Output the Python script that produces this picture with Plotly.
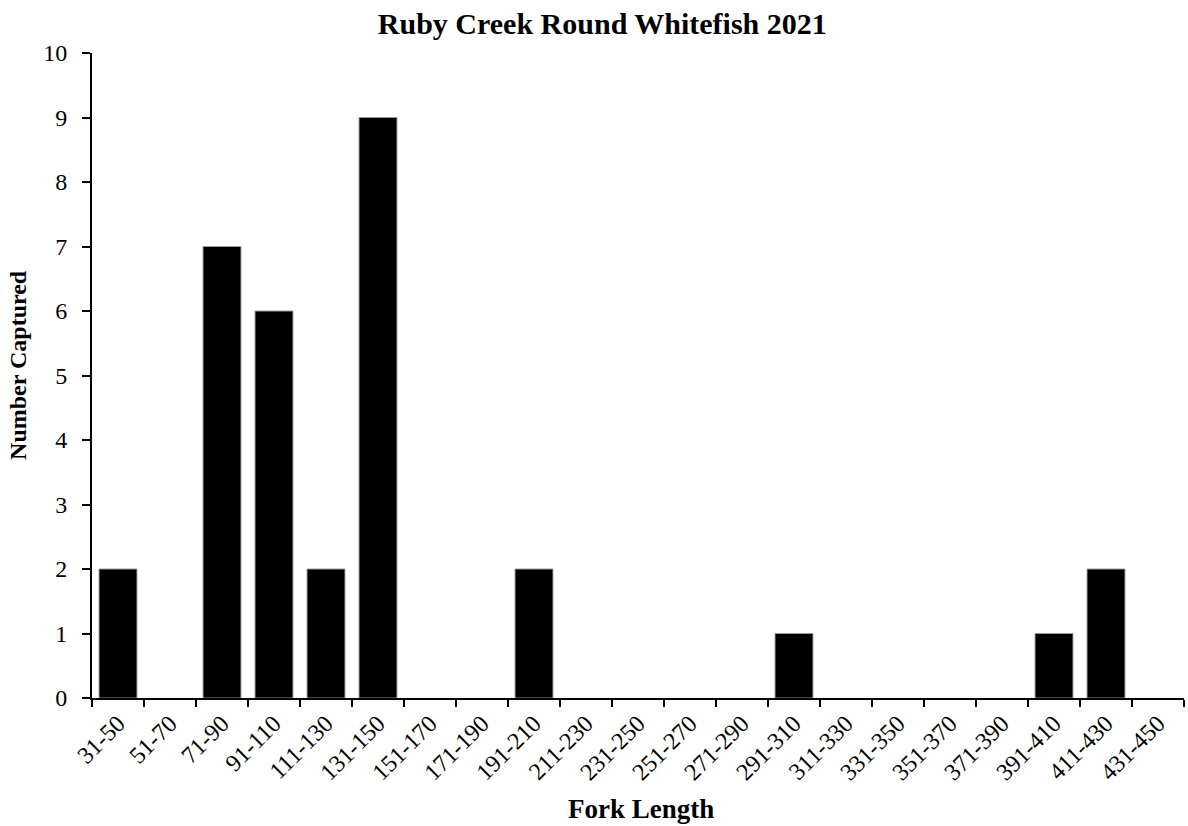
import plotly.graph_objects as go

categories = ["31-50", "51-70", "71-90", "91-110", "111-130", "131-150", "151-170",
              "171-190", "191-210", "211-230", "231-250", "251-270", "271-290",
              "291-310", "311-330", "331-350", "351-370", "371-390", "391-410",
              "411-430", "431-450"]
counts = [2, 0, 7, 6, 2, 9, 0, 0, 2, 0, 0, 0, 0, 1, 0, 0, 0, 0, 1, 2, 0]

font_family = "Liberation Serif, Times New Roman, serif"

fig = go.Figure(go.Bar(
    x=categories, y=counts,
    marker=dict(color="black",
                line=dict(color="#9a9a9a", width=[1 if c > 0 else 0 for c in counts])),
))

fig.update_layout(
    width=1188, height=826,
    margin=dict(l=92, r=4, t=53, b=128),
    paper_bgcolor="white", plot_bgcolor="white",
    bargap=0.27,
    showlegend=False,
    font=dict(family=font_family, color="black", size=24),
    title=dict(text="<b>Ruby Creek Round Whitefish 2021</b>", x=0.507, xref="container",
               xanchor="center", y=0.972, yanchor="middle",
               font=dict(size=30, family=font_family)),
    annotations=[
        dict(text="<b>Fork Length</b>", xref="paper", yref="paper",
             x=0.503, y=-0.172, xanchor="center", yanchor="middle",
             showarrow=False, font=dict(size=27, family=font_family)),
        dict(text="<b>Number Captured</b>", xref="paper", yref="paper",
             x=-0.068, y=0.516, xanchor="center", yanchor="middle", textangle=-90,
             showarrow=False, font=dict(size=24, family=font_family)),
    ],
)

fig.update_xaxes(
    type="category", tickangle=-45, tickson="boundaries",
    ticks="outside", ticklen=7, tickwidth=2, tickcolor="black",
    showline=True, linecolor="black", linewidth=2,
    showgrid=False, tickfont=dict(size=24, family=font_family),
)
fig.update_yaxes(
    range=[0, 10], dtick=1,
    ticks="outside", ticklen=8, tickwidth=2, tickcolor="black",
    showline=True, linecolor="black", linewidth=2, ticklabelstandoff=10,
    showgrid=False, zeroline=False, tickfont=dict(size=24, family=font_family),
)

fig.write_html(
    "out.html",
    config={"displayModeBar": False},
    post_script="document.body.style.margin='0';document.body.style.overflow='hidden';",
)
